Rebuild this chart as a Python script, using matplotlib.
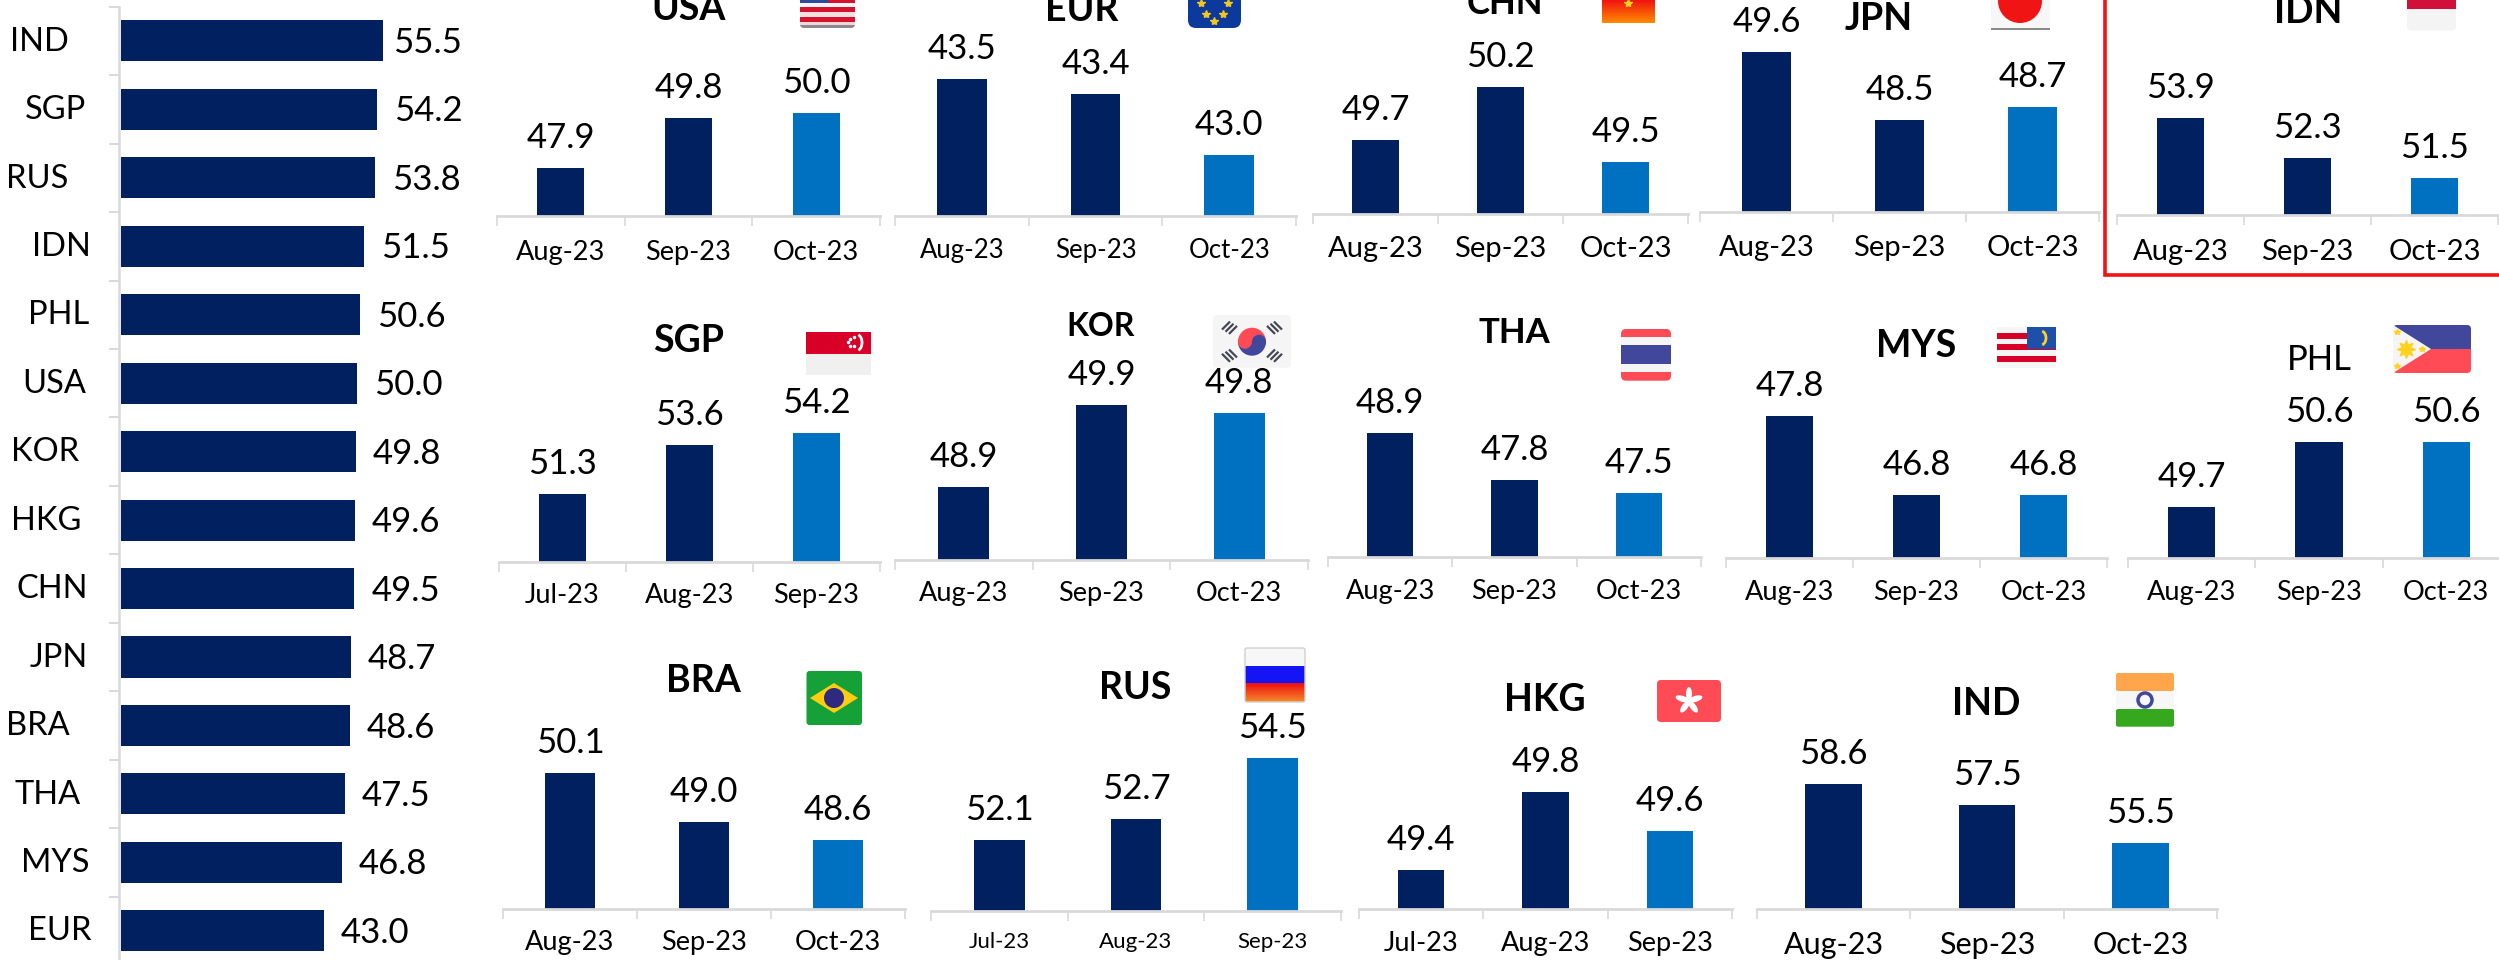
import numpy as np
import matplotlib
matplotlib.use("Agg")
import matplotlib.pyplot as plt
from matplotlib import patches
from matplotlib.colors import LinearSegmentedColormap

W, H = 2499, 960
NAVY = "#002060"
BLUE = "#0070C0"
GREY = "#D9D9D9"
RED = "#FF4B55"
FLAG_BLUE = "#41479B"
OFF_WHITE = "#F5F5F5"

plt.rcParams['font.family'] = ['Lato', 'DejaVu Sans']

# ranking on the left
rank_codes = ['IND', 'SGP', 'RUS', 'IDN', 'PHL', 'USA', 'KOR', 'HKG', 'CHN', 'JPN', 'BRA', 'THA', 'MYS', 'EUR']
rank_values = [55.5, 54.2, 53.8, 51.5, 50.6, 50.0, 49.8, 49.6, 49.5, 48.7, 48.6, 47.5, 46.8, 43.0]
rank_label_x = [39, 55, 37, 61, 59, 54, 45, 46, 52, 59, 38, 48, 55, 60]

aug_oct = ['Aug-23', 'Sep-23', 'Oct-23']
jul_sep = ['Jul-23', 'Aug-23', 'Sep-23']

usa_values = [47.9, 49.8, 50.0]
eur_values = [43.5, 43.4, 43.0]
chn_values = [49.7, 50.2, 49.5]
jpn_values = [49.6, 48.5, 48.7]
idn_values = [53.9, 52.3, 51.5]
sgp_values = [51.3, 53.6, 54.2]
kor_values = [48.9, 49.9, 49.8]
tha_values = [48.9, 47.8, 47.5]
mys_values = [47.8, 46.8, 46.8]
phl_values = [49.7, 50.6, 50.6]
bra_values = [50.1, 49.0, 48.6]
rus_values = [52.1, 52.7, 54.5]
hkg_values = [49.4, 49.8, 49.6]
ind_values = [58.6, 57.5, 55.5]

# values, months, left px, right px, baseline px, axis min, px per unit
panels = [
    (usa_values, aug_oct, 497, 880, 216, 46.04, 26),
    (eur_values, aug_oct, 895, 1296, 216, 42.6, 152),
    (chn_values, aug_oct, 1313, 1688, 213.5, 49.01, 106),
    (jpn_values, aug_oct, 1700, 2099, 212, 47.0, 61.6),
    (idn_values, aug_oct, 2117, 2498, 215.3, 50.0, 25),
    (sgp_values, jul_sep, 499, 880, 561.7, 48.04, 20.9),
    (kor_values, aug_oct, 895, 1308, 559.7, 48.01, 82),
    (tha_values, aug_oct, 1328, 1701, 557.3, 46.0, 43),
    (mys_values, aug_oct, 1726, 2107, 558, 46.0, 79),
    (phl_values, aug_oct, 2128, 2510, 558.3, 49.0, 72.7),
    (bra_values, aug_oct, 503, 905, 908.7, 47.06, 44.5),
    (rus_values, jul_sep, 931, 1341, 911, 50.0, 34),
    (hkg_values, jul_sep, 1359, 1732, 909, 49.2, 195),
    (ind_values, aug_oct, 1757, 2217, 909, 52.03, 19),
]
month_sizes = [19.5, 18.5, 21, 21, 21, 19.5, 19.5, 19.5, 19.5, 19.5, 19.5, 16, 19.5, 22]
month_pads = [17.5, 15.5, 16.5, 16.5, 17, 15.5, 15.5, 15.5, 15.5, 15.5, 15, 15, 15.5, 15.5]

# code, x, baseline y, size, weight
titles = [
    ('USA', 689, 19.5, 27, 'bold'), ('EUR', 1082, 20.7, 27, 'bold'), ('CHN', 1505, 14, 25, 'bold'),
    ('JPN', 1879, 29.5, 27, 'bold'), ('IDN', 2308, 22.7, 27, 'bold'), ('SGP', 689, 351.7, 27, 'bold'),
    ('KOR', 1101, 335.7, 23, 'bold'), ('THA', 1514, 342.7, 25, 'bold'), ('MYS', 1916, 357, 27, 'bold'),
    ('PHL', 2319.5, 370, 25, 'normal'), ('BRA', 703, 691.7, 27, 'bold'), ('RUS', 1135.6, 699, 27, 'bold'),
    ('HKG', 1545, 711, 27, 'bold'), ('IND', 1986, 715, 27, 'bold'),
]


def px_axes(fig, x0, x1, y_top, y_bottom):
    return fig.add_axes([x0 / W, 1 - y_bottom / H, (x1 - x0) / W, (y_bottom - y_top) / H], facecolor='none')


def rounded(x0, y0, x1, y1, r, **kw):
    return patches.FancyBboxPatch((x0 + r, y0 + r), x1 - x0 - 2 * r, y1 - y0 - 2 * r,
                                  boxstyle=f"round,pad={r}", **kw)


def box(ov, x0, y0, x1, y1, color, round_px=0, z=5):
    if round_px:
        p = rounded(x0, y0, x1, y1, round_px, fc=color, ec='none', zorder=z)
    else:
        p = patches.Rectangle((x0, y0), x1 - x0, y1 - y0, fc=color, ec='none', zorder=z)
    ov.add_patch(p)
    return p


def bands(ov, x0, x1, rows, r=0):
    # stack of stripes, clipped to a rounded outline when r is set
    clip = None
    if r:
        clip = rounded(x0, rows[0][0], x1, rows[-1][1], r, fc='none', ec='none', transform=ov.transData)
        ov.add_patch(clip)
    for y0, y1, color in rows:
        p = box(ov, x0, y0, x1, y1, color)
        if clip is not None:
            p.set_clip_path(clip)


def draw_flags(ov):
    # USA
    bands(ov, 800, 855, [(-5, 3, '#D6132F'), (3, 7, '#F4F4F4'), (7, 12, '#D6132F'), (12, 17, '#F0E0E0'),
                         (17, 22, '#D6132F'), (22, 25, '#F6D5D8'), (25, 28, '#8A8A8A')], r=4)
    box(ov, 800, -5, 828, 3, '#2F4A9A', z=6)
    # EUR
    box(ov, 1188, -20, 1241, 28, '#0B3A9C', 8)
    for sx, sy in [(1201, 3), (1228, 3), (1206, 14), (1223, 14), (1214, 21)]:
        ov.plot(sx, sy, marker='*', color='#F5C518', ms=6, zorder=6)
    # CHN
    ov.imshow(np.linspace(0, 1, 24).reshape(-1, 1), extent=(1602, 1655, 23, -1), aspect='auto', zorder=5,
              cmap=LinearSegmentedColormap.from_list('c', ['#F01010', '#FF8A00']))
    ov.plot(1628, 3, marker='*', color='#FFD21E', ms=6, zorder=6)
    # JPN
    box(ov, 1991, -20, 2050, 29, '#F7F7F7', 5)
    ov.add_patch(patches.Circle((2020, 1), 22, fc='#F01414', ec='none', zorder=6))
    box(ov, 1991, 27.5, 2050, 29.5, '#8A8A8A', z=6)
    # IDN
    box(ov, 2407, -12, 2456, 30.6, '#F4F4F4', 5)
    box(ov, 2407, -12, 2456, 9, '#D0103A', z=6)
    # SGP
    bands(ov, 806, 871, [(331.7, 353.5, '#D80027'), (353.5, 375, '#F0F0F0')])
    ov.add_patch(patches.Arc((857, 342.5), 10, 16, theta1=-80, theta2=80, color='white', lw=2, zorder=6))
    for sx, sy in [(850, 339), (854, 337), (854, 346), (850, 346), (848, 342)]:
        ov.plot(sx, sy, marker='o', color='white', ms=1.5, zorder=6)
    # KOR
    box(ov, 1213, 315, 1291, 367.7, OFF_WHITE, 4)
    ov.add_patch(patches.Wedge((1252, 341.7), 14, 180, 360, fc=RED, ec='none', zorder=6))
    ov.add_patch(patches.Wedge((1252, 341.7), 14, 0, 180, fc=FLAG_BLUE, ec='none', zorder=6))
    ov.add_patch(patches.Circle((1245, 341.7), 7, fc=RED, ec='none', zorder=7))
    ov.add_patch(patches.Circle((1259, 341.7), 7, fc=FLAG_BLUE, ec='none', zorder=7))
    for sx, sy in [(-1, -1), (1, -1), (-1, 1), (1, 1)]:
        # trigrams sit on the diagonals, three short bars each
        for d in [19, 22.5, 26]:
            cx, cy = 1252 + sx * d, 341.7 + sy * d * 0.62
            ex, ey = 4 * sy, -4 * sx
            ov.plot([cx - ex, cx + ex], [cy - ey, cy + ey], color='#464655', lw=1.6, zorder=6,
                    solid_capstyle='butt')
    # THA
    bands(ov, 1621, 1671, [(329, 337, RED), (337, 345, OFF_WHITE), (345, 364, FLAG_BLUE),
                           (364, 372, OFF_WHITE), (372, 380.7, RED)], r=5)
    # MYS
    stripes = []
    for k in range(7):
        stripes.append((327 + k * 5.83, 327 + (k + 1) * 5.83, '#D80027' if k % 2 else '#F5F5F5'))
    bands(ov, 1997, 2055.7, stripes)
    box(ov, 2026.5, 327, 2055.7, 349, '#1D50A8', z=6)
    ov.add_patch(patches.Arc((2041, 338), 10, 14, theta1=-80, theta2=80, color='#FFD21E', lw=2, zorder=7))
    # PHL
    bands(ov, 2393, 2471, [(325, 349, FLAG_BLUE), (349, 373, RED)], r=4)
    ov.add_patch(patches.Polygon([(2393, 325), (2431, 349), (2393, 373)], fc=OFF_WHITE, ec='none', zorder=6))
    ov.plot(2406, 349, marker=(8, 1, 0), color='#FFD21E', ms=13, zorder=7)
    for sx, sy in [(2397, 332), (2397, 366), (2422, 349)]:
        ov.plot(sx, sy, marker='*', color='#FFD21E', ms=4, zorder=7)
    # BRA
    box(ov, 806.5, 671, 862, 725, '#16A038', 3)
    ov.add_patch(patches.Polygon([(810, 698), (834, 683), (858, 698), (834, 713)], fc='#FFCC10', ec='none', zorder=6))
    ov.add_patch(patches.Circle((834, 698), 10, fc='#2E2A80', ec='none', zorder=7))
    # RUS
    box(ov, 1245, 648, 1305, 702, '#F7F7F7', 2)
    ov.add_patch(rounded(1245, 648, 1305, 702, 2, fc='none', ec='#D0D0D0', lw=1, zorder=7))
    box(ov, 1245, 666, 1305, 683, '#1414F5')
    ov.imshow(np.linspace(0, 1, 18).reshape(-1, 1), extent=(1245, 1305, 702, 683), aspect='auto', zorder=5,
              cmap=LinearSegmentedColormap.from_list('r', ['#F01010', '#F58A2A']))
    # HKG
    box(ov, 1657, 680, 1721, 722, RED, 4)
    for ang in range(0, 360, 72):
        a = np.deg2rad(ang)
        ov.add_patch(patches.Ellipse((1689 + 7 * np.sin(a), 701 - 7 * np.cos(a)), 6, 14, angle=ang,
                                     fc='white', ec='none', zorder=6))
    # IND
    box(ov, 2116, 673, 2174, 691, '#FFA64D', 2)
    box(ov, 2116, 691, 2174, 709, '#F7F7F7')
    box(ov, 2116, 709, 2174, 726.7, '#35A81E', 2)
    ov.add_patch(patches.Circle((2145, 700), 7, fc='none', ec='#41479B', lw=2.5, zorder=6))


def main():
    fig = plt.figure(figsize=(W / 100, H / 100), dpi=100, facecolor='white')

    # ranking
    top, pitch = 6.7, 68.45
    x0 = 120.7
    ax = px_axes(fig, x0, x0 + 300, top, top + pitch * len(rank_values))
    ax.barh(range(len(rank_values)), rank_values, height=0.6, color=NAVY)
    ax.set_xlim(0, 300 / 4.72)
    ax.set_ylim(len(rank_values) - 0.5, -0.5)
    ax.set_xticks([])
    ax.set_yticks(np.arange(len(rank_values) + 1) - 0.5)
    ax.tick_params(axis='y', length=7.2, width=1.4, color=GREY, labelleft=False)
    for s in ['top', 'right', 'bottom']:
        ax.spines[s].set_visible(False)
    ax.spines['left'].set_color(GREY)
    ax.spines['left'].set_linewidth(1.8)
    ax.spines['left'].set_position(('outward', 1))
    for i, (code, val, lx) in enumerate(zip(rank_codes, rank_values, rank_label_x)):
        gap = 10 if code == 'IND' else 17
        ax.annotate(f"{val:.1f}", xy=(val, i), xytext=(gap * 0.72, -1.5), textcoords='offset points',
                    va='center', ha='left', fontsize=25, color='black')
        ax.annotate(code, xy=(0, i), xytext=((lx - x0) * 0.72, -0.5), textcoords='offset points',
                    va='center', ha='center', fontsize=23.5, color='black')

    # country panels
    for (values, months, left, right, base, ymin, ppu), msize, mpad in zip(panels, month_sizes, month_pads):
        ax = px_axes(fig, left, right, base - 200, base)
        ax.bar([0, 1, 2], values, width=0.37, color=[NAVY, NAVY, BLUE])
        ax.set_xlim(-0.5, 2.5)
        ax.set_ylim(ymin, ymin + 200 / ppu)
        ax.set_yticks([])
        ax.set_xticks([0, 1, 2], months, fontsize=msize)
        ax.set_xticks([-0.5, 0.5, 1.5, 2.5], minor=True)
        ax.tick_params(axis='x', which='major', length=0, pad=mpad)
        ax.tick_params(axis='x', which='minor', length=7.5, width=1.2, color=GREY)
        for s in ['top', 'left', 'right']:
            ax.spines[s].set_visible(False)
        ax.spines['bottom'].set_color(GREY)
        ax.spines['bottom'].set_linewidth(2)
        for i, val in enumerate(values):
            ax.annotate(f"{val:.1f}", xy=(i, val), xytext=(0, 14.4), textcoords='offset points',
                        va='baseline', ha='center', fontsize=25, color='black')

    # overlay in pixel coordinates for titles, flags and the highlight box
    ov = fig.add_axes([0, 0, 1, 1], facecolor='none', zorder=10)
    ov.set_axis_off()
    for code, x, y, size, weight in titles:
        ov.text(x, y, code, ha='center', va='baseline', fontsize=size, fontweight=weight, color='black')
    draw_flags(ov)
    ov.add_patch(patches.Rectangle((2104.5, -20), 450, 295, fc='none', ec='#F01414', lw=2.6, zorder=8))
    ov.set_xlim(0, W)
    ov.set_ylim(H, 0)

    fig.savefig("out.png", dpi=100)


if __name__ == "__main__":
    main()
